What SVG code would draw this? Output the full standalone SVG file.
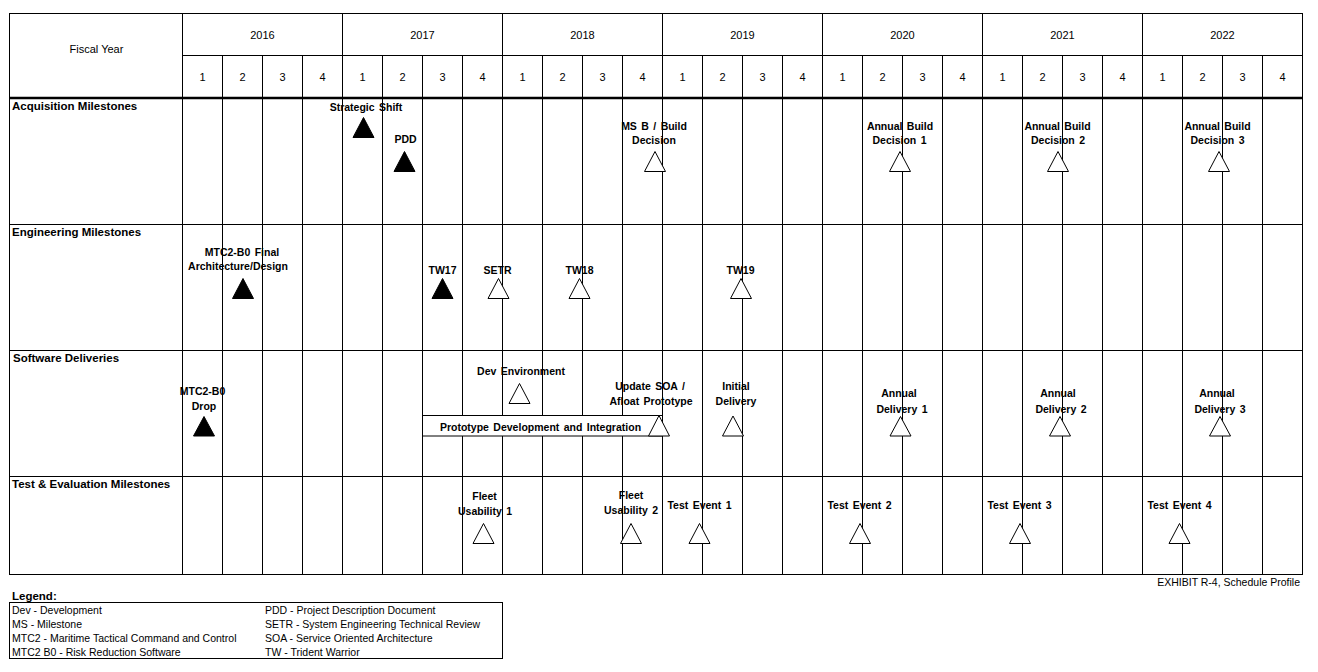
<svg xmlns="http://www.w3.org/2000/svg" width="1318" height="672" viewBox="0 0 1318 672">
<style>
.g{stroke:#000;stroke-width:1;fill:none}
.hd{font-family:"Liberation Sans",Arial,sans-serif;font-size:11px;fill:#000;text-anchor:middle}
.rl{font-family:"Liberation Sans",Arial,sans-serif;font-size:11.5px;font-weight:bold;fill:#000}
.ml{font-family:"Liberation Sans",Arial,sans-serif;font-size:10.5px;font-weight:bold;fill:#000;text-anchor:middle;word-spacing:1.5px}
.lg{font-family:"Liberation Sans",Arial,sans-serif;font-size:10.5px;fill:#000}
.tf{fill:#000;stroke:#000;stroke-width:1}
.to{fill:#fff;stroke:#000;stroke-width:1}
</style>
<rect width="1318" height="672" fill="#fff"/>
<g id="grid" class="g">
<rect x="9.5" y="13.5" width="1293" height="561"/>
<path d="M182.5 55.5H1302.5M9.5 224.5H1302.5M9.5 350.5H1302.5M9.5 476.5H1302.5"/>
<path d="M182.5 13.5V574.5M342.5 13.5V574.5M502.5 13.5V574.5M662.5 13.5V574.5M822.5 13.5V574.5M982.5 13.5V574.5M1142.5 13.5V574.5"/>
<path d="M222.5 55.5V574.5M262.5 55.5V574.5M302.5 55.5V574.5M382.5 55.5V574.5M422.5 55.5V574.5M462.5 55.5V574.5M542.5 55.5V574.5M582.5 55.5V574.5M622.5 55.5V574.5M702.5 55.5V574.5M742.5 55.5V574.5M782.5 55.5V574.5M862.5 55.5V574.5M902.5 55.5V574.5M942.5 55.5V574.5M1022.5 55.5V574.5M1062.5 55.5V574.5M1102.5 55.5V574.5M1182.5 55.5V574.5M1222.5 55.5V574.5M1262.5 55.5V574.5"/>
<path d="M9.5 98H1302.5" stroke-width="2.5"/>
</g>
<g id="header">
<text class="hd" x="96.5" y="53">Fiscal Year</text>
<text class="hd" x="262.5" y="39">2016</text>
<text class="hd" x="422.5" y="39">2017</text>
<text class="hd" x="582.5" y="39">2018</text>
<text class="hd" x="742.5" y="39">2019</text>
<text class="hd" x="902.5" y="39">2020</text>
<text class="hd" x="1062.5" y="39">2021</text>
<text class="hd" x="1222.5" y="39">2022</text>
<g id="quarters">
<text class="hd" x="202.5" y="81">1</text><text class="hd" x="242.5" y="81">2</text><text class="hd" x="282.5" y="81">3</text><text class="hd" x="322.5" y="81">4</text>
<text class="hd" x="362.5" y="81">1</text><text class="hd" x="402.5" y="81">2</text><text class="hd" x="442.5" y="81">3</text><text class="hd" x="482.5" y="81">4</text>
<text class="hd" x="522.5" y="81">1</text><text class="hd" x="562.5" y="81">2</text><text class="hd" x="602.5" y="81">3</text><text class="hd" x="642.5" y="81">4</text>
<text class="hd" x="682.5" y="81">1</text><text class="hd" x="722.5" y="81">2</text><text class="hd" x="762.5" y="81">3</text><text class="hd" x="802.5" y="81">4</text>
<text class="hd" x="842.5" y="81">1</text><text class="hd" x="882.5" y="81">2</text><text class="hd" x="922.5" y="81">3</text><text class="hd" x="962.5" y="81">4</text>
<text class="hd" x="1002.5" y="81">1</text><text class="hd" x="1042.5" y="81">2</text><text class="hd" x="1082.5" y="81">3</text><text class="hd" x="1122.5" y="81">4</text>
<text class="hd" x="1162.5" y="81">1</text><text class="hd" x="1202.5" y="81">2</text><text class="hd" x="1242.5" y="81">3</text><text class="hd" x="1282.5" y="81">4</text>
</g>
</g>
<g id="row-labels">
<text class="rl" x="12" y="110">Acquisition Milestones</text>
<text class="rl" x="12" y="236">Engineering Milestones</text>
<text class="rl" x="13" y="362">Software Deliveries</text>
<text class="rl" x="12" y="488">Test &amp; Evaluation Milestones</text>
</g>
<g id="connectors"></g>
<!-- Acquisition -->
<g id="ms-strategic-shift"><text class="ml" x="366" y="111" word-spacing="3">Strategic Shift</text><polygon class="tf" points="363.5,117.5 353,137.5 374,137.5"/></g>
<g id="ms-pdd"><text class="ml" x="405.5" y="143">PDD</text><polygon class="tf" points="404.5,151.5 394,171.5 415,171.5"/></g>
<g id="ms-msb"><text class="ml" x="654" y="129.5" word-spacing="0.5">MS B / Build</text><text class="ml" x="654" y="144">Decision</text><polygon class="to" points="655,151.5 644.5,171.5 665.5,171.5"/></g>
<g id="ms-abd1"><text class="ml" x="900" y="129.5" word-spacing="3">Annual Build</text><text class="ml" x="899.5" y="144">Decision 1</text><polygon class="to" points="900,151.5 889.5,171.5 910.5,171.5"/></g>
<g id="ms-abd2"><text class="ml" x="1057.5" y="129.5" word-spacing="3">Annual Build</text><text class="ml" x="1058" y="144">Decision 2</text><polygon class="to" points="1058,151.5 1047.5,171.5 1068.5,171.5"/></g>
<g id="ms-abd3"><text class="ml" x="1217.5" y="129.5" word-spacing="3">Annual Build</text><text class="ml" x="1217.5" y="144">Decision 3</text><polygon class="to" points="1219,151.5 1208.5,171.5 1229.5,171.5"/></g>
<!-- Engineering -->
<g id="ms-mtc2-final"><text class="ml" x="242" y="255.5" word-spacing="3">MTC2-B0 Final</text><text class="ml" x="238" y="270">Architecture/Design</text><polygon class="tf" points="243,278.5 232.5,298.5 253.5,298.5"/></g>
<g id="ms-tw17"><text class="ml" x="442.5" y="274">TW17</text><polygon class="tf" points="442.5,278.5 432,298.5 453,298.5"/></g>
<g id="ms-setr"><text class="ml" x="497.5" y="274">SETR</text><polygon class="to" points="498.5,278.5 488,298.5 509,298.5"/></g>
<g id="ms-tw18"><text class="ml" x="579.5" y="274">TW18</text><polygon class="to" points="579.5,278.5 569,298.5 590,298.5"/></g>
<g id="ms-tw19"><text class="ml" x="740.5" y="274">TW19</text><polygon class="to" points="741,278.5 730.5,298.5 751.5,298.5"/></g>
<!-- Software -->
<g id="ms-drop"><text class="ml" x="202.5" y="395">MTC2-B0</text><text class="ml" x="204" y="410">Drop</text><polygon class="tf" points="204,416.5 193.5,436 214.5,436"/></g>
<g id="ms-devenv"><text class="ml" x="521" y="375" word-spacing="0.5">Dev Environment</text><polygon class="to" points="519.5,383.5 509,403.5 530,403.5"/></g>
<g id="bar-prototype"><rect x="422.5" y="415.5" width="240" height="20.5" fill="#fff" stroke="#000"/><text class="ml" x="540.5" y="431" word-spacing="3">Prototype Development and Integration</text></g>
<g id="ms-update-soa"><text class="ml" x="650" y="390" word-spacing="2.5">Update SOA /</text><text class="ml" x="651" y="405" word-spacing="2.5">Afloat Prototype</text><polygon class="to" points="659,415.5 648.5,436 669.5,436"/></g>
<g id="ms-initial"><text class="ml" x="736" y="390">Initial</text><text class="ml" x="736" y="405">Delivery</text><polygon class="to" points="733,416 722.5,436 743.5,436"/></g>
<g id="ms-ad1"><text class="ml" x="899" y="397">Annual</text><text class="ml" x="902" y="413">Delivery 1</text><polygon class="to" points="900.5,416.5 890,436 911,436"/></g>
<g id="ms-ad2"><text class="ml" x="1058" y="397">Annual</text><text class="ml" x="1061" y="413">Delivery 2</text><polygon class="to" points="1060,416.5 1049.5,436 1070.5,436"/></g>
<g id="ms-ad3"><text class="ml" x="1217" y="397">Annual</text><text class="ml" x="1220" y="413">Delivery 3</text><polygon class="to" points="1220,416.5 1209.5,436 1230.5,436"/></g>
<!-- Test -->
<g id="ms-fu1"><text class="ml" x="484.5" y="500">Fleet</text><text class="ml" x="485" y="515">Usability 1</text><polygon class="to" points="483.5,523.5 473,543.5 494,543.5"/></g>
<g id="ms-fu2"><text class="ml" x="631" y="499">Fleet</text><text class="ml" x="631" y="514">Usability 2</text><polygon class="to" points="631,523.5 620.5,543.5 641.5,543.5"/></g>
<g id="ms-te1"><text class="ml" x="699.5" y="509">Test Event 1</text><polygon class="to" points="699.5,523.5 689,543.5 710,543.5"/></g>
<g id="ms-te2"><text class="ml" x="859.5" y="509">Test Event 2</text><polygon class="to" points="860,523.5 849.5,543.5 870.5,543.5"/></g>
<g id="ms-te3"><text class="ml" x="1019.5" y="509">Test Event 3</text><polygon class="to" points="1020,523.5 1009.5,543.5 1030.5,543.5"/></g>
<g id="ms-te4"><text class="ml" x="1179.5" y="509">Test Event 4</text><polygon class="to" points="1179.5,523.5 1169,543.5 1190,543.5"/></g>
<g id="exhibit"><text class="lg" x="1300" y="586" text-anchor="end">EXHIBIT R-4, Schedule Profile</text></g>
<g id="legend">
<text class="rl" x="12" y="600" font-size="11px">Legend:</text>
<rect x="9.5" y="602.5" width="493" height="56" fill="none" stroke="#000"/>
<text class="lg" x="12" y="614">Dev - Development</text>
<text class="lg" x="12" y="628">MS - Milestone</text>
<text class="lg" x="12" y="642">MTC2 - Maritime Tactical Command and Control</text>
<text class="lg" x="12" y="656">MTC2 B0 - Risk Reduction Software</text>
<text class="lg" x="265" y="614">PDD - Project Description Document</text>
<text class="lg" x="265" y="628">SETR - System Engineering Technical Review</text>
<text class="lg" x="265" y="642">SOA - Service Oriented Architecture</text>
<text class="lg" x="265" y="656">TW - Trident Warrior</text>
</g>
</svg>
